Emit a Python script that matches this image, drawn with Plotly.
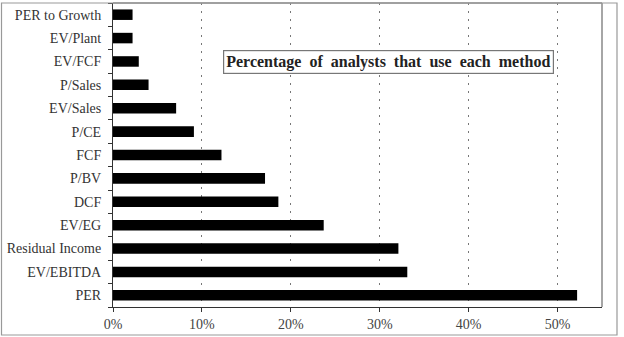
import plotly.graph_objects as go

methods = ["PER", "EV/EBITDA", "Residual Income", "EV/EG", "DCF", "P/BV", "FCF",
           "P/CE", "EV/Sales", "P/Sales", "EV/FCF", "EV/Plant", "PER to Growth"]
usage_pct = [52.2, 33.1, 32.1, 23.7, 18.6, 17.1, 12.2, 9.1, 7.1, 4.0, 2.9, 2.2, 2.2]
x_ticks = [0, 10, 20, 30, 40, 50]
x_tick_labels = ["0%", "10%", "20%", "30%", "40%", "50%"]
title_text = "Percentage  of  analysts  that  use  each  method"

W, H = 624, 337
L, R, T, B = 113, 602, 3, 307

fig = go.Figure(go.Bar(
    x=usage_pct, y=methods, orientation="h",
    marker=dict(color="black", line=dict(width=0)),
    width=0.45,
))

serif = "Liberation Serif"

def px_x(p):
    return (p - L) / (R - L)

def px_y(p):
    return (B - p) / (B - T)

fig.update_layout(
    width=W, height=H,
    margin=dict(l=L, r=W - R, t=T, b=H - B),
    paper_bgcolor="white", plot_bgcolor="white",
    showlegend=False,
    font=dict(family=serif, size=14, color="#333333"),
    xaxis=dict(
        range=[0, 55], tickvals=x_ticks, ticktext=x_tick_labels,
        ticks="outside", ticklen=4, tickcolor="#333333",
        showline=True, linecolor="#333333", linewidth=1,
        showgrid=True, gridcolor="#777777", griddash="2px,6px", gridwidth=1,
        zeroline=False, fixedrange=True,
        tickfont=dict(family=serif, size=14, color="#444444"),
    ),
    yaxis=dict(
        type="category", categoryorder="array", categoryarray=methods,
        range=[-0.5, len(methods) - 0.5],
        ticks="outside", ticklen=4, tickcolor="#333333", tickson="boundaries",
        showline=True, linecolor="#333333", linewidth=1,
        showgrid=False, zeroline=False, fixedrange=True,
        tickfont=dict(family=serif, size=14, color="#333333"),
        ticklabelstandoff=8,
    ),
    shapes=[
        dict(type="line", xref="paper", yref="paper", x0=0, x1=1, y0=1, y1=1,
             line=dict(color="#888888", width=1.5)),
        dict(type="line", xref="paper", yref="paper", x0=1, x1=1, y0=0, y1=1,
             line=dict(color="#888888", width=1.5)),
        dict(type="rect", xref="paper", yref="paper",
             x0=px_x(1.5), x1=px_x(617), y0=px_y(335), y1=px_y(3),
             line=dict(color="#999999", width=1.2), fillcolor="rgba(0,0,0,0)"),
    ],
    annotations=[
        dict(text="<b>" + title_text + "</b>", xref="paper", yref="paper",
             x=px_x(388), y=px_y(62), xanchor="center", yanchor="middle",
             showarrow=False, font=dict(family=serif, size=16, color="#222222"),
             bordercolor="#777777", borderwidth=1.2, borderpad=2, bgcolor="white"),
    ],
)

fig.write_html("out.html")
